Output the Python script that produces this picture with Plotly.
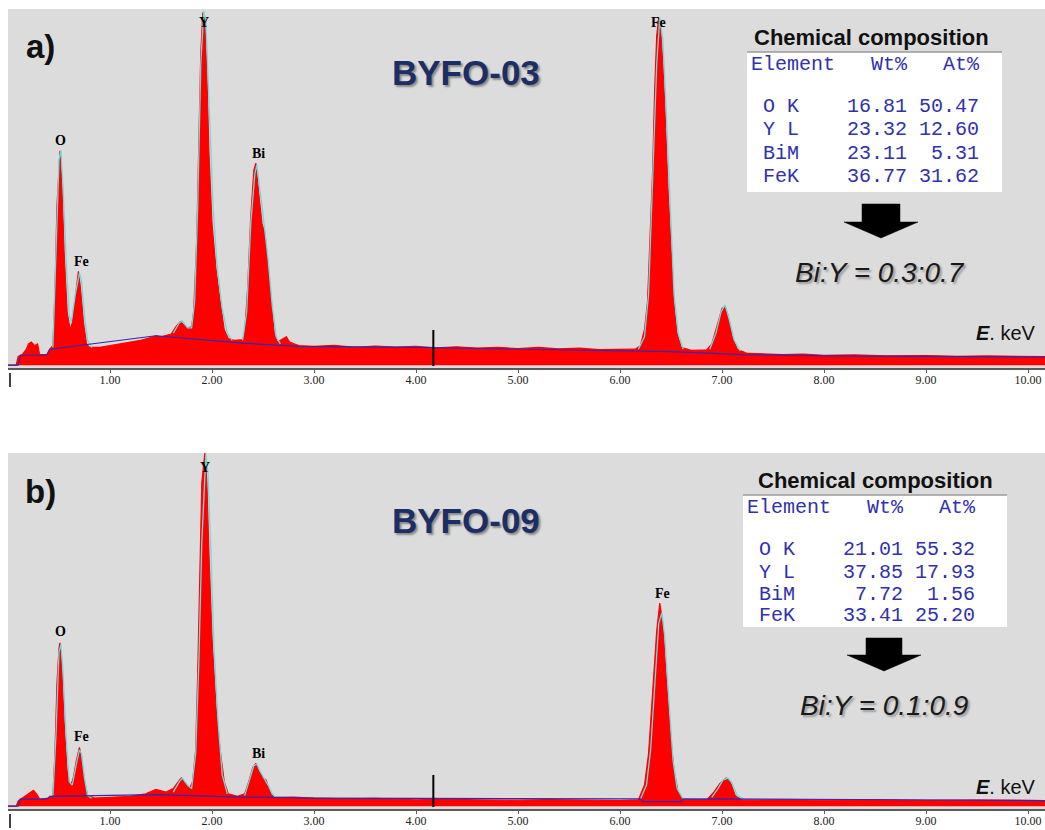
import plotly.graph_objects as go

W, H = 1045, 830

# ---------------- data (intensity in % of full scale) ----------------
tick_vals = [1, 2, 3, 4, 5, 6, 7, 8, 9, 10]
tick_text = ["1.00", "2.00", "3.00", "4.00", "5.00", "6.00", "7.00", "8.00", "9.00", "10.00"]

# panel a) BYFO-03 measured spectrum
a_E = [0.00, 0.08, 0.10, 0.14, 0.18, 0.20, 0.23, 0.26, 0.29, 0.31, 0.38, 0.41, 0.44, 0.46, 0.48, 0.50,
       0.51, 0.53, 0.55, 0.58, 0.61, 0.63, 0.66, 0.69, 0.71, 0.74, 0.77, 0.80, 0.90, 1.00, 1.10, 1.20,
       1.30, 1.40, 1.45, 1.50, 1.55, 1.60, 1.65, 1.69, 1.72, 1.76, 1.80, 1.82, 1.85, 1.87, 1.89, 1.91,
       1.93, 1.95, 1.97, 2.00, 2.04, 2.08, 2.12, 2.16, 2.22, 2.30, 2.32, 2.35, 2.38, 2.41, 2.43, 2.46,
       2.49, 2.52, 2.55, 2.58, 2.61, 2.64, 2.70, 2.73, 2.76, 2.85, 3.00, 3.20, 3.40, 3.60, 3.80, 4.00,
       4.20, 4.40, 4.60, 4.80, 5.00, 5.20, 5.40, 5.60, 5.80, 6.00, 6.15, 6.20, 6.24, 6.27, 6.30, 6.32,
       6.34, 6.36, 6.38, 6.40, 6.42, 6.44, 6.47, 6.50, 6.53, 6.56, 6.60, 6.70, 6.85, 6.90, 6.95, 7.00,
       7.03, 7.06, 7.10, 7.15, 7.25, 7.40, 7.60, 7.80, 8.00, 8.30, 8.60, 9.00, 9.30, 9.60, 10.00, 10.17]
a_I = [0.0, 0.0, 2.5, 3.0, 4.5, 6.0, 6.5, 5.5, 6.0, 3.0, 3.0, 4.5, 5.5, 20.0, 45.0, 58.0,
       60.5, 50.0, 32.0, 15.0, 10.0, 12.0, 20.0, 26.5, 22.0, 12.0, 6.0, 5.0, 5.0, 5.5, 6.0, 6.5,
       7.0, 7.8, 8.3, 8.0, 8.3, 8.8, 11.0, 12.3, 11.5, 10.5, 10.8, 15.0, 35.0, 62.0, 88.0, 99.5,
       97.0, 82.0, 60.0, 40.0, 27.0, 18.0, 10.0, 7.5, 7.0, 7.2, 9.0, 22.0, 42.0, 55.0, 57.0, 48.0,
       40.0, 37.0, 28.0, 18.0, 9.0, 6.5, 7.5, 8.0, 6.5, 5.5, 5.3, 5.6, 5.0, 5.4, 5.1, 5.3,
       4.9, 5.2, 4.8, 5.0, 4.7, 5.0, 4.6, 4.8, 4.4, 4.5, 4.5, 5.5, 10.0, 18.0, 38.0, 55.0,
       78.0, 93.0, 98.0, 94.0, 85.0, 73.0, 50.0, 33.0, 17.0, 9.0, 5.0, 4.2, 4.3, 6.0, 11.0, 16.0,
       16.5, 14.0, 8.0, 4.5, 3.3, 3.2, 3.0, 3.1, 2.8, 2.9, 2.6, 2.7, 2.5, 2.6, 2.4, 2.4]

# panel a) fitted peak envelope (cyan), None separates peaks
a_fit_E = [0.44, 0.47, 0.50, 0.52, 0.54, 0.57, 0.60, 0.62, 0.66, 0.70, 0.72, 0.75, 0.78, 0.82, None,
           1.62, 1.68, 1.71, 1.76, 1.80, 1.83, 1.86, 1.89, 1.92, 1.94, 1.97, 2.01, 2.05, 2.10, 2.15, 2.20, None,
           2.30, 2.34, 2.38, 2.42, 2.44, 2.47, 2.51, 2.55, 2.59, 2.63, 2.67, None,
           6.18, 6.24, 6.28, 6.32, 6.36, 6.39, 6.42, 6.45, 6.49, 6.53, 6.57, 6.62, None,
           6.88, 6.94, 6.99, 7.03, 7.07, 7.12, 7.18]
a_fit_I = [5, 30, 58, 60.5, 50, 30, 14, 12, 20, 26, 24, 14, 7, 5, None,
           9, 12, 12.5, 10.5, 10.5, 18, 45, 85, 100, 97, 75, 45, 28, 16, 9, 7, None,
           7, 15, 40, 54, 56.5, 50, 40, 30, 17, 8, 6, None,
           4.5, 8, 20, 50, 85, 98, 92, 74, 45, 20, 9, 4.5, None,
           4.5, 9, 15, 17, 13, 7, 4]

# panel a) background (blue)
a_bg_E = [0.00, 0.10, 0.12, 0.38, 0.41, 1.45, 2.30, 2.85, 4.00, 5.00, 6.00, 6.50, 7.20, 8.00, 10.17]
a_bg_I = [0.0, 0.0, 2.8, 2.8, 4.5, 8.3, 6.2, 5.3, 5.0, 4.6, 4.2, 3.8, 3.0, 2.6, 2.3]

# panel b) BYFO-09 measured spectrum
b_E = [0.00, 0.08, 0.10, 0.15, 0.20, 0.25, 0.28, 0.31, 0.40, 0.44, 0.46, 0.48, 0.50, 0.51, 0.53, 0.55,
       0.58, 0.61, 0.64, 0.67, 0.70, 0.72, 0.75, 0.78, 0.85, 1.00, 1.20, 1.35, 1.45, 1.55, 1.62, 1.67,
       1.70, 1.74, 1.78, 1.81, 1.84, 1.86, 1.88, 1.90, 1.93, 1.95, 1.97, 2.00, 2.04, 2.08, 2.12, 2.16,
       2.25, 2.32, 2.36, 2.40, 2.43, 2.46, 2.50, 2.53, 2.57, 2.61, 2.80, 3.00, 3.30, 3.60, 4.00, 4.30,
       4.60, 5.00, 5.30, 5.60, 6.00, 6.18, 6.24, 6.28, 6.32, 6.36, 6.39, 6.42, 6.45, 6.49, 6.53, 6.57,
       6.62, 6.85, 6.92, 6.98, 7.04, 7.08, 7.13, 7.20, 7.60, 8.00, 8.50, 9.00, 9.50, 10.17]
b_I = [0.0, 0.0, 1.5, 2.5, 3.5, 4.5, 3.5, 2.0, 2.3, 3.0, 15.0, 35.0, 45.0, 46.5, 38.0, 24.0,
       10.0, 5.5, 8.0, 13.0, 16.7, 14.0, 7.0, 3.0, 2.3, 2.5, 2.8, 3.5, 4.8, 4.0, 5.0, 7.0,
       8.0, 6.5, 5.0, 7.0, 16.0, 38.0, 68.0, 92.0, 100.5, 92.0, 72.0, 48.0, 28.0, 16.0, 7.0, 3.5,
       2.8, 3.5, 7.0, 11.0, 12.2, 10.0, 8.0, 7.5, 4.0, 2.5, 2.6, 2.3, 2.1, 2.2, 1.8, 2.0,
       1.8, 1.7, 1.9, 1.7, 1.6, 1.8, 6.0, 15.0, 32.0, 50.0, 57.8, 52.0, 38.0, 22.0, 10.0, 4.0,
       1.8, 1.8, 4.0, 6.5, 8.0, 7.0, 3.0, 1.7, 1.8, 1.7, 1.8, 1.6, 1.7, 1.6]

b_fit_E = [0.44, 0.47, 0.50, 0.52, 0.54, 0.57, 0.60, 0.63, 0.67, 0.70, 0.72, 0.75, 0.78, 0.82, None,
           1.62, 1.68, 1.71, 1.76, 1.80, 1.84, 1.87, 1.90, 1.94, 1.96, 1.99, 2.02, 2.06, 2.10, 2.15, None,
           2.32, 2.37, 2.41, 2.44, 2.47, 2.51, 2.55, 2.59, 2.63, None,
           6.20, 6.26, 6.30, 6.34, 6.38, 6.41, 6.44, 6.48, 6.52, 6.56, 6.62, None,
           6.90, 6.96, 7.01, 7.06, 7.10, 7.15, 7.22]
b_fit_I = [3, 20, 44, 46, 38, 20, 7, 6, 12, 16, 15, 8, 3, 2.3, None,
           4, 7, 8, 6, 5, 15, 40, 75, 100, 95, 72, 45, 24, 9, 3.5, None,
           3, 8, 11.5, 12, 10, 8, 6, 3.5, 2.5, None,
           2, 6, 16, 35, 52, 55, 48, 30, 13, 5, 2, None,
           2.5, 5, 7.5, 8, 6.5, 3, 2]

b_bg_E = [0.00, 0.10, 0.12, 0.38, 0.41, 1.45, 2.30, 3.00, 6.20, 6.22, 6.60, 6.62, 8.30, 10.17]
b_bg_I = [0.0, 0.0, 2.0, 2.0, 2.8, 3.3, 2.6, 2.3, 2.1, 1.3, 1.3, 2.1, 1.9, 1.6]

# peak labels
a_peak_names = ["O", "Fe", "Y", "Bi", "Fe"]
a_peak_E = [0.51, 0.72, 1.92, 2.46, 6.38]
b_peak_names = ["O", "Fe", "Y", "Bi", "Fe"]
b_peak_E = [0.51, 0.72, 1.93, 2.46, 6.42]

# composition tables
elements = ["O K", "Y L", "BiM", "FeK"]
a_wt = ["16.81", "23.32", "23.11", "36.77"]
a_at = ["50.47", "12.60", "5.31", "31.62"]
b_wt = ["21.01", "37.85", "7.72", "33.41"]
b_at = ["55.32", "17.93", "1.56", "25.20"]
samples = ["BYFO-03", "BYFO-09"]
panel_tags = ["a)", "b)"]
ratios = ["Bi:Y = 0.3:0.7", "Bi:Y = 0.1:0.9"]
CURSOR_KEV = 4.17

# ---------------- helpers ----------------
def px(x, y):
    return x / W, 1 - y / H

NB = "\u00a0"

def sp(s):
    return s.replace(" ", NB)

RED = "#FF0000"
CYAN = "#66DEE0"
BLUE = "#2B2BB5"
GREY_BG = "#DCDCDC"

fig = go.Figure()

panels = [
    dict(E=a_E, I=a_I, fE=a_fit_E, fI=a_fit_I, bE=a_bg_E, bI=a_bg_I, xa="x", ya="y"),
    dict(E=b_E, I=b_I, fE=b_fit_E, fI=b_fit_I, bE=b_bg_E, bI=b_bg_I, xa="x2", ya="y2"),
]
for p in panels:
    fig.add_trace(go.Scatter(x=p["E"], y=p["I"], mode="lines", fill="tozeroy",
                             fillcolor=RED, line=dict(color=RED, width=1.2),
                             xaxis=p["xa"], yaxis=p["ya"], hoverinfo="skip", showlegend=False))
    fig.add_trace(go.Scatter(x=p["fE"], y=p["fI"], mode="lines",
                             line=dict(color=CYAN, width=1.3),
                             xaxis=p["xa"], yaxis=p["ya"], hoverinfo="skip", showlegend=False,
                             connectgaps=False))
    fig.add_trace(go.Scatter(x=p["bE"], y=p["bI"], mode="lines",
                             line=dict(color=BLUE, width=1.2),
                             xaxis=p["xa"], yaxis=p["ya"], hoverinfo="skip", showlegend=False))

# panel pixel geometry: (top, axis line)
geom = [(9, 368), (453, 809)]
x0 = 8 / W

xaxis_common = dict(range=[0, (W - 8) / 102], showgrid=False, zeroline=False, showline=True,
                    linecolor="#5A5A5A", linewidth=2, ticks="outside", ticklen=3, tickwidth=1,
                    tickcolor="#5A5A5A", tickvals=tick_vals, ticktext=tick_text,
                    tickfont=dict(family="Liberation Serif", size=12, color="#222222"),
                    ticklabelstandoff=-3,
                    automargin=False, fixedrange=True)
yaxis_common = dict(range=[-0.8, 100.5], visible=False, showgrid=False, zeroline=False,
                    automargin=False, fixedrange=True)

fig.update_layout(
    width=W, height=H, margin=dict(l=0, r=0, t=0, b=0, pad=0), autosize=False,
    paper_bgcolor="white", plot_bgcolor=GREY_BG,
    xaxis=dict(domain=[x0, 1], anchor="y", **xaxis_common),
    yaxis=dict(domain=[1 - geom[0][1] / H, 1 - geom[0][0] / H], anchor="x", **yaxis_common),
    xaxis2=dict(domain=[x0, 1], anchor="y2", **xaxis_common),
    yaxis2=dict(domain=[1 - geom[1][1] / H, 1 - geom[1][0] / H], anchor="x2", **yaxis_common),
    showlegend=False,
)

shapes = []
annotations = []

# layout positions per panel (pixels)
lay = [
    dict(tag=(40, 47), name=(466, 72), chem=(871, 37), box=(747, 52, 1002, 192),
         head_y=65, rows_y=[107, 130, 153, 176], text_x=749,
         arrow=(862, 900, 204, 222, 844, 918, 881, 238), ratio=(880, 272), ekev=(1038, 333),
         peak_y=[140, 261, 22, 154, 22], cursor=(330, 366), xa="x", ya="y"),
    dict(tag=(40, 491), name=(466, 520), chem=(875, 480), box=(743, 495, 1007, 627),
         head_y=507, rows_y=[549, 572, 594, 615], text_x=745,
         arrow=(866, 902, 638, 655, 847, 921, 884, 671), ratio=(884, 705), ekev=(1038, 787),
         peak_y=[631, 736, 467, 753, 593], cursor=(775, 807), xa="x2", ya="y2"),
]
tables = [(a_wt, a_at), (b_wt, b_at)]
peaks = [(a_peak_names, a_peak_E), (b_peak_names, b_peak_E)]

for i, L in enumerate(lay):
    x, y = px(*L["tag"])
    annotations.append(dict(x=x, y=y, xref="paper", yref="paper", text=f"<b>{panel_tags[i]}</b>",
                            showarrow=False, xanchor="center", yanchor="middle",
                            font=dict(family="Liberation Sans", size=33, color="#111111")))
    x, y = px(*L["name"])
    annotations.append(dict(x=x, y=y, xref="paper", yref="paper", text=f"<b>{samples[i]}</b>",
                            showarrow=False, xanchor="center", yanchor="middle",
                            font=dict(family="Liberation Sans", size=35, color="#1B2F66",
                                      shadow="2px 2px 2px #8A8A8A")))
    x, y = px(*L["chem"])
    annotations.append(dict(x=x, y=y, xref="paper", yref="paper", text="<b>Chemical composition</b>",
                            showarrow=False, xanchor="center", yanchor="middle",
                            font=dict(family="Liberation Sans", size=22, color="#111111")))
    bx0, by0, bx1, by1 = L["box"]
    X0, Y1 = px(bx0, by0)
    X1, Y0 = px(bx1, by1)
    shapes.append(dict(type="rect", xref="paper", yref="paper", x0=X0, x1=X1, y0=Y0, y1=Y1,
                       fillcolor="white", line=dict(width=0), layer="above"))
    shapes.append(dict(type="line", xref="paper", yref="paper", x0=X0, x1=X1, y0=Y1, y1=Y1,
                       line=dict(color="#9A9A9A", width=1.5), layer="above"))
    mono = dict(family="Liberation Mono", size=20, color="#3030B0")
    tx, _ = px(L["text_x"], 0)
    _, ty = px(0, L["head_y"])
    annotations.append(dict(x=tx, y=ty, xref="paper", yref="paper", text=sp("Element   Wt%   At%"),
                            showarrow=False, xanchor="left", yanchor="middle", font=mono))
    wt, at = tables[i]
    for r, el in enumerate(elements):
        line = " " + el.ljust(3) + " " * 3 + wt[r].rjust(6) + at[r].rjust(6)
        _, ty = px(0, L["rows_y"][r])
        annotations.append(dict(x=tx, y=ty, xref="paper", yref="paper", text=sp(line),
                                showarrow=False, xanchor="left", yanchor="middle", font=mono))
    rx0, rx1, ry0, ry1, tx0, tx1, apx, apy = L["arrow"]
    def P(a, b):
        u, v = px(a, b)
        return f"{u:.5f},{v:.5f}"
    path = ("M " + P(rx0, ry0) + " L " + P(rx1, ry0) + " L " + P(rx1, ry1) + " L " + P(tx1, ry1) +
            " L " + P(apx, apy) + " L " + P(tx0, ry1) + " L " + P(rx0, ry1) + " Z")
    shapes.append(dict(type="path", xref="paper", yref="paper", path=path,
                       fillcolor="black", line=dict(color="black", width=0.5), layer="above"))
    x, y = px(*L["ratio"])
    annotations.append(dict(x=x, y=y, xref="paper", yref="paper", text=f"<i>{ratios[i]}</i>",
                            showarrow=False, xanchor="center", yanchor="middle",
                            font=dict(family="Liberation Sans", size=28, color="#1A1A1A",
                                      shadow="2px 2px 2px #9A9A9A")))
    x, y = px(*L["ekev"])
    annotations.append(dict(x=x, y=y, xref="paper", yref="paper", text="<b><i>E</i></b>. keV",
                            showarrow=False, xanchor="right", yanchor="middle",
                            font=dict(family="Liberation Sans", size=20, color="#111111")))
    names, Es = peaks[i]
    for n, e, yy in zip(names, Es, L["peak_y"]):
        _, y = px(0, yy)
        annotations.append(dict(x=e, y=y, xref=L["xa"], yref="paper", text=f"<b>{n}</b>",
                                showarrow=False, xanchor="center", yanchor="middle",
                                font=dict(family="Liberation Serif", size=14, color="black")))
    c0, c1 = L["cursor"]
    _, yc0 = px(0, c1)
    _, yc1 = px(0, c0)
    shapes.append(dict(type="line", xref=L["xa"], yref="paper", x0=CURSOR_KEV, x1=CURSOR_KEV,
                       y0=yc0, y1=yc1, line=dict(color="black", width=2), layer="above"))
    ax = geom[i][1]
    _, ym0 = px(0, ax + 19)
    _, ym1 = px(0, ax + 5)
    xm, _ = px(10, 0)
    shapes.append(dict(type="line", xref="paper", yref="paper", x0=xm, x1=xm, y0=ym0, y1=ym1,
                       line=dict(color="black", width=1.5)))

fig.update_layout(shapes=shapes, annotations=annotations)
fig.write_html(
    "out.html",
    config={"displayModeBar": False},
    post_script="document.body.style.margin='0';document.body.style.padding='0';"
                "document.body.style.overflow='hidden';document.documentElement.style.overflow='hidden';",
)
